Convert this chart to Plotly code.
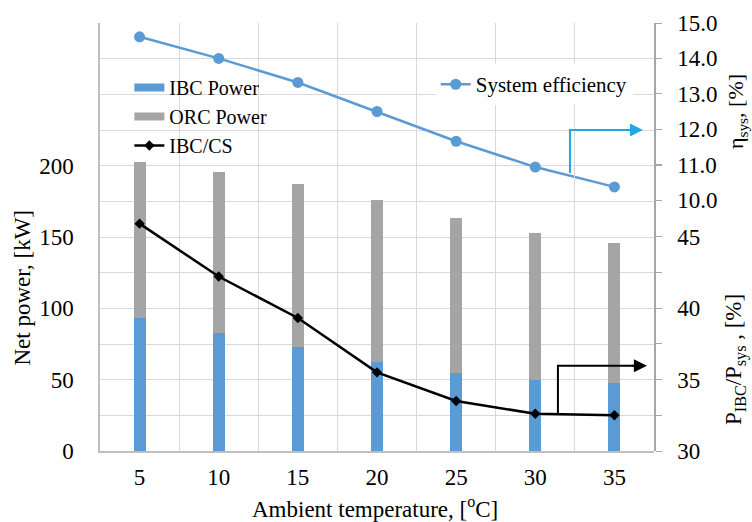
import plotly.graph_objects as go

# ---- data ----
temperature = [5, 10, 15, 20, 25, 30, 35]
ibc_power = [93.3, 82.8, 73.0, 62.5, 54.7, 49.8, 47.7]
orc_power = [109.5, 113.0, 114.4, 113.5, 108.8, 103.2, 98.3]
ibc_cs_ratio = [45.9, 42.2, 39.3, 35.5, 33.5, 32.6, 32.5]
system_eff = [14.61, 14.0, 13.32, 12.5, 11.66, 10.93, 10.37]

left_ticks = [0, 50, 100, 150, 200]
eff_ticks = [10, 11, 12, 13, 14, 15]
ratio_ticks = [30, 35, 40, 45]

FONT = "Liberation Serif"
BLUE = "#5b9bd5"
GRAY = "#a5a5a5"
GRID = "#d9d9d9"
AXIS = "#bfbfbf"

fig = go.Figure()
fig.add_trace(go.Bar(x=temperature, y=ibc_power, name="IBC Power", marker_color=BLUE,
                     marker_line_width=0, width=0.75, xaxis="x", yaxis="y", showlegend=False))
fig.add_trace(go.Bar(x=temperature, y=orc_power, name="ORC Power", marker_color=GRAY,
                     marker_line_width=0, width=0.75, xaxis="x", yaxis="y", showlegend=False))
# legend swatches for the bars (wide flat rectangles as in the reference)
fig.add_trace(go.Scatter(x=[None], y=[None], name="IBC Power", mode="lines",
                         line=dict(color=BLUE, width=8), xaxis="x", yaxis="y", legend="legend"))
fig.add_trace(go.Scatter(x=[None], y=[None], name="ORC Power", mode="lines",
                         line=dict(color=GRAY, width=8), xaxis="x", yaxis="y", legend="legend"))
fig.add_trace(go.Scatter(x=temperature, y=ibc_cs_ratio, name="IBC/CS", mode="lines+markers",
                         line=dict(color="black", width=2.5),
                         marker=dict(symbol="diamond", size=8, color="black"),
                         xaxis="x", yaxis="y3", legend="legend"))
fig.add_trace(go.Scatter(x=temperature, y=system_eff, name="System efficiency", mode="lines+markers",
                         line=dict(color=BLUE, width=2.5),
                         marker=dict(symbol="circle", size=11, color=BLUE),
                         xaxis="x", yaxis="y2", legend="legend2"))

minor_x = [2.5 + 5 * i for i in range(8)]
minor_y = [25, 75, 125, 175, 225, 250, 275, 300]

eff_domain0 = (451 - 200) / 428.0
ratio_domain1 = (451 - 165) / 428.0

fig.update_layout(
    width=752, height=522,
    margin=dict(l=100, r=98, t=23, b=71),
    paper_bgcolor="white", plot_bgcolor="rgba(0,0,0,0)",
    barmode="stack", bargap=0,
    font=dict(family=FONT, size=23, color="black"),
    showlegend=True,
    xaxis=dict(range=[2.5, 37.5], tickvals=temperature, showgrid=False, zeroline=False,
               showline=True, linecolor=AXIS, linewidth=1.5, ticks="",
               ticklabelstandoff=5,
               minor=dict(tickvals=minor_x, showgrid=True, gridcolor=GRID, gridwidth=1.2, ticks="")),
    yaxis=dict(range=[0, 300], tickvals=left_ticks, showgrid=True, gridcolor=GRID, gridwidth=1.2,
               zeroline=False, showline=True, linecolor=AXIS, linewidth=1.5, ticks="",
               ticklabelstandoff=20,
               minor=dict(tickvals=minor_y, showgrid=True, gridcolor=GRID, gridwidth=1.2, ticks="")),
    yaxis2=dict(domain=[eff_domain0, 1.0], range=[10, 15], tickvals=eff_ticks, tickformat=".1f",
                anchor="x", side="right", showgrid=False, zeroline=False,
                showline=True, linecolor="#a6a6a6", linewidth=1.5,
                ticks="outside", ticklen=6, tickcolor="#a6a6a6", ticklabelstandoff=11),
    yaxis3=dict(domain=[0, ratio_domain1], range=[30, 50], tickvals=ratio_ticks,
                anchor="x", side="right", showgrid=False, zeroline=False,
                showline=True, linecolor="#a6a6a6", linewidth=1.5,
                ticks="outside", ticklen=6, tickcolor="#a6a6a6", ticklabelstandoff=11,
                minor=dict(dtick=2.5, tick0=30, ticks="outside", ticklen=6, tickcolor="#a6a6a6")),
    legend=dict(x=0.053, y=0.895, xanchor="left", yanchor="top", traceorder="normal",
                bgcolor="rgba(255,255,255,0)", font=dict(family=FONT, size=20), tracegroupgap=0,
                borderwidth=0),
    legend2=dict(x=0.606, y=0.904, xanchor="left", yanchor="top",
                 bgcolor="white", font=dict(family=FONT, size=21)),
)

# axis titles
fig.add_annotation(text="Net power, [kW]", xref="paper", yref="paper", x=-0.14, y=0.383,
                   xanchor="center", yanchor="middle",
                   textangle=-90, showarrow=False, font=dict(size=23))
fig.add_annotation(text="Ambient temperature, [<sup>o</sup>C]", xref="paper", yref="paper",
                   x=0.496, y=-0.133, xanchor="center", yanchor="middle",
                   showarrow=False, font=dict(size=23))
fig.add_annotation(text="η<sub>sys</sub>, [%]", xref="paper", yref="paper", x=1.150, y=0.792,
                   xanchor="center", yanchor="middle",
                   textangle=-90, showarrow=False, font=dict(size=22))
fig.add_annotation(text="P<sub>IBC</sub>/P<sub>sys</sub> , [%]", xref="paper", yref="paper",
                   x=1.148, y=0.215, xanchor="center", yanchor="middle",
                   textangle=-90, showarrow=False, font=dict(size=23))

# pointer arrows
ARROW_BLUE = "#22a7e0"
fig.add_shape(type="path", path="M 32.19,10.76 L 32.19,11.98 L 36.2,11.98",
              xref="x", yref="y2", line=dict(color=ARROW_BLUE, width=2))
fig.add_annotation(x=36.8, y=11.98, ax=35.8, ay=11.98, xref="x", yref="y2", axref="x", ayref="y2",
                   text="", showarrow=True, arrowhead=2, arrowsize=1.3, arrowwidth=2,
                   arrowcolor=ARROW_BLUE)
fig.add_shape(type="path", path="M 31.43,32.66 L 31.43,35.96 L 36.4,35.96",
              xref="x", yref="y3", line=dict(color="black", width=2))
fig.add_annotation(x=37.05, y=35.96, ax=36.0, ay=35.96, xref="x", yref="y3", axref="x", ayref="y3",
                   text="", showarrow=True, arrowhead=2, arrowsize=1.3, arrowwidth=2,
                   arrowcolor="black")

fig.write_html("out.html")
